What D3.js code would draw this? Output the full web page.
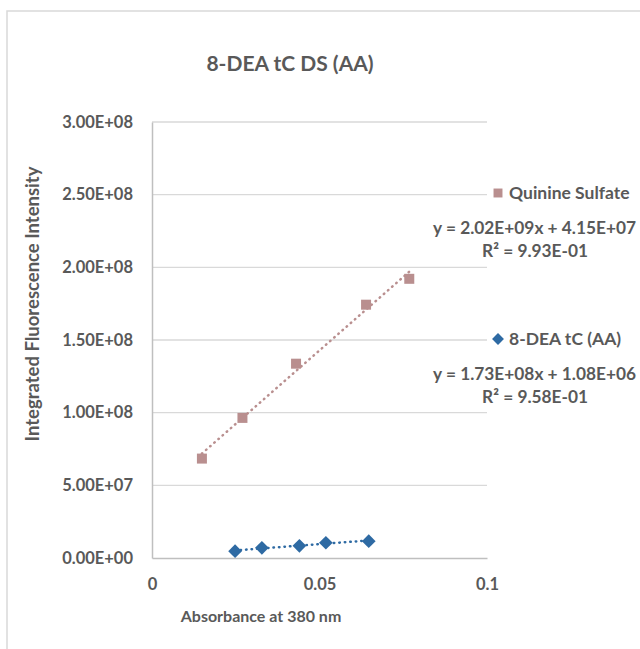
<!DOCTYPE html>
<html>
<head>
<meta charset="utf-8">
<script src="https://cdn.jsdelivr.net/npm/d3@7"></script>
<style>
  body { margin: 0; background: #fff; }
  text { font-family: Lato, "Open Sans", sans-serif; font-weight: bold; fill: #595959; }
</style>
</head>
<body>
<script>
// data
quinineX = [0.0149, 0.0270, 0.0430, 0.0639, 0.0768]
quinineY = [6.84e7, 9.64e7, 1.337e8, 1.743e8, 1.921e8]
deaX = [0.0248, 0.0328, 0.0440, 0.0519, 0.0647]
deaY = [4.7e6, 7.0e6, 8.4e6, 1.05e7, 1.16e7]
yTicks = [0, 5e7, 1e8, 1.5e8, 2e8, 2.5e8, 3e8]
xTicks = [0, 0.05, 0.1]
seriesNames = ["Quinine Sulfate", "8-DEA tC (AA)"]
equations = ["y = 2.02E+09x + 4.15E+07", "y = 1.73E+08x + 1.08E+06"]
r2 = ["R² = 9.93E-01", "R² = 9.58E-01"]

width = 640
height = 649
margin = {top: 122, right: 153, bottom: 91, left: 152}

x = d3.scaleLinear()
	.domain([0, 0.1])
	.range([margin.left, width - margin.right])

y = d3.scaleLinear()
	.domain([0, 3e8])
	.range([height - margin.bottom, margin.top])

var svg = d3.select("body").append("svg")
	.attr("width", width)
	.attr("height", height)

// chart border
svg.append("rect")
	.attr("x", 7).attr("y", 11)
	.attr("width", 660).attr("height", 660)
	.attr("fill", "none")
	.attr("stroke", "#d9d9d9")
	.attr("stroke-width", 1.5)

// gridlines
svg.append("g")
	.selectAll("line")
	.data(yTicks.slice(1))
	.join("line")
	.attr("x1", x(0)).attr("x2", x(0.1))
	.attr("y1", d => y(d)).attr("y2", d => y(d))
	.attr("stroke", "#d9d9d9")
	.attr("stroke-width", 1.3)

// axes
var gy = svg.append("g")
	.attr("transform", "translate(" + x(0) + ",0)")
	.call(d3.axisLeft(y).tickValues(yTicks).tickSize(0).tickPadding(19)
		.tickFormat(d => d.toExponential(2).replace("e", "E").replace(/E([+-])(\d)$/, "E$10$2")))
gy.select(".domain").attr("stroke", "#bfbfbf").attr("stroke-width", 1.5)
gy.selectAll("text").style("font-size", "16.5px").style("font-family", "Lato").attr("fill", "#595959")

var gx = svg.append("g")
	.attr("transform", "translate(0," + y(0) + ")")
	.call(d3.axisBottom(x).tickValues(xTicks).tickSize(0).tickPadding(20)
		.tickFormat(d => String(d)))
gx.select(".domain").attr("stroke", "#bfbfbf").attr("stroke-width", 1.5)
gx.selectAll("text").style("font-size", "16.5px").style("font-family", "Lato").attr("fill", "#595959")

// trendlines (dotted)
function trend(xs, ys, color) {
	var mx = d3.mean(xs), my = d3.mean(ys)
	var b = d3.sum(xs, (v, i) => (v - mx) * (ys[i] - my)) / d3.sum(xs, v => (v - mx) * (v - mx))
	var a = my - b * mx
	var x0 = d3.min(xs), x1 = d3.max(xs)
	svg.append("line")
		.attr("x1", x(x0)).attr("y1", y(a + b * x0))
		.attr("x2", x(x1)).attr("y2", y(a + b * x1))
		.attr("stroke", color)
		.attr("stroke-width", 2.5)
		.attr("stroke-linecap", "round")
		.attr("stroke-dasharray", "0.5,5")
}
trend(quinineX, quinineY, "#b98f8f")
trend(deaX, deaY, "#2e6aa3")

// markers
var sq = d3.symbol().type(d3.symbolSquare).size(100)
var dia = d3.symbol().type(d3.symbolDiamond2).size(120)

svg.append("g")
	.selectAll("path")
	.data(quinineX.map((v, i) => [v, quinineY[i]]))
	.join("path")
	.attr("d", sq)
	.attr("transform", d => "translate(" + x(d[0]) + "," + y(d[1]) + ")")
	.attr("fill", "#b98f8f")

svg.append("g")
	.selectAll("path")
	.data(deaX.map((v, i) => [v, deaY[i]]))
	.join("path")
	.attr("d", dia)
	.attr("transform", d => "translate(" + x(d[0]) + "," + y(d[1]) + ")")
	.attr("fill", "#2e6aa3")

// title
svg.append("text")
	.attr("x", 290).attr("y", 71)
	.attr("text-anchor", "middle")
	.style("font-size", "21px")
	.text("8-DEA tC DS (AA)")

// axis titles
svg.append("text")
	.attr("x", 261).attr("y", 622)
	.attr("text-anchor", "middle")
	.style("font-size", "16px")
	.text("Absorbance at 380 nm")

svg.append("text")
	.attr("transform", "translate(39,304) rotate(-90)")
	.attr("text-anchor", "middle")
	.style("font-size", "18.5px")
	.text("Integrated Fluorescence Intensity")

// legend with trendline equations
var legendY = [193, 339]
var legendSym = [d3.symbol().type(d3.symbolSquare).size(80), d3.symbol().type(d3.symbolDiamond2).size(90)]
var legendCol = ["#b98f8f", "#2e6aa3"]
seriesNames.forEach((name, i) => {
	svg.append("path")
		.attr("d", legendSym[i])
		.attr("transform", "translate(498," + legendY[i] + ")")
		.attr("fill", legendCol[i])
	svg.append("text")
		.attr("x", 509).attr("y", legendY[i] + 6)
		.style("font-size", "17.5px")
		.text(name)
	svg.append("text")
		.attr("x", 636).attr("y", legendY[i] + 41)
		.attr("text-anchor", "end")
		.style("font-size", "17.3px")
		.text(equations[i])
	svg.append("text")
		.attr("x", 588).attr("y", legendY[i] + 64)
		.attr("text-anchor", "end")
		.style("font-size", "17.3px")
		.text(r2[i])
})
</script>
</body>
</html>
